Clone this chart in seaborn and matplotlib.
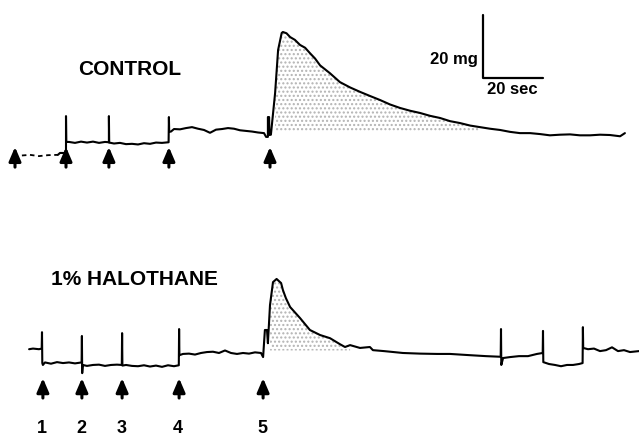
import numpy as np
import pandas as pd
import matplotlib
matplotlib.use("Agg")
import matplotlib.pyplot as plt
import seaborn as sns

# Contraction traces: time in seconds, tension in mg
# (zero = resting level after the first stimulus of each trace)
pre_t = [7.3, 10, 13, 16, 19.3]
pre_mg = [-4.6, -4.4, -4.8, -4.5, -4.4]

control_t = [19.3, 20.0, 22.0, 22.0, 22.1, 23, 25, 27, 29, 31, 33, 35, 36.3, 36.3, 36.4,
             38, 40, 42, 44, 46, 48, 50, 52, 54, 56.2, 56.3, 56.4, 57, 58, 60, 62, 64, 66,
             68, 70, 72, 74, 76, 78, 80, 82, 84, 86, 87, 88, 88.7, 89.3, 89.3, 89.7, 89.8,
             90.3, 91.7, 92.7, 93.9, 94.3, 95.5, 96.7, 98.3, 100, 101.7, 103.3, 105, 106.7,
             110, 113.3, 116.7, 120, 123.3, 126.7, 130, 133.3, 136.7, 140, 143.3, 146.7,
             150, 153.3, 156.7, 160, 163.3, 166.7, 170, 173.3, 176.7, 180, 183.3, 186.7,
             190, 193.3, 196.7, 200, 203.3, 206.7, 208.3]
control_mg = [-4.4, -3.8, -3.8, 7.9, -0.3, -0.3, -0.6, -0.2, -0.5, -0.2, -0.6, -0.3, -0.4, 7.9, -0.5,
              -0.8, -0.6, -1.0, -0.9, -1.1, -0.7, -0.9, -0.5, -0.6, -0.4, 7.6, 2.9, 3.0, 3.8, 3.7, 4.1, 4.4, 3.9,
              3.5, 2.6, 3.6, 3.8, 4.1, 3.9, 3.4, 3.2, 3.0, 2.7, 2.6, 2.5, 1.3, 1.3, 7.6, 7.6, 1.9,
              2.0, 15.2, 28.9, 34.3, 34.6, 34.2, 33.0, 32.1, 30.5, 29.6, 27.9, 26.2, 24.0,
              21.5, 18.7, 17.0, 15.6, 14.3, 13.0, 11.6, 10.5, 9.6, 8.9, 8.0, 7.3,
              6.3, 5.7, 4.9, 4.4, 3.9, 3.5, 2.9, 2.5, 2.5, 2.2, 1.8, 2.0,
              2.1, 1.8, 1.8, 2.0, 1.9, 1.5, 2.5]

halo_t = [9.7, 11, 13, 13.9, 14.0, 14.1, 14.3, 15, 17, 19, 21, 23, 25, 27.2, 27.3, 27.4, 27.6,
          29, 31, 33, 35, 37, 39, 40.6, 40.7, 40.8, 42, 44, 46, 48, 50, 52, 54, 56, 58, 59.6,
          59.7, 59.8, 61, 63, 65, 67, 69, 71, 73, 75, 77, 79, 81, 83, 85, 87, 87.7, 88.3, 89.0,
          89.3, 90.0, 91.0, 92.2, 93.7, 94.3, 95.3, 96.7, 100, 103.3, 106.7, 110, 113.3, 115,
          116.7, 120, 123.3, 124.3, 128, 134.3, 140, 145.7, 150, 156.7, 162, 166.9, 167.0,
          167.1, 167.7, 170, 173, 176, 179, 180.9, 181.0, 181.1, 183, 185, 187, 189, 191, 193,
          194.2, 194.3, 194.4, 196, 198, 200, 202, 204, 206, 208, 210, 213]
halo_mg = [4.4, 4.6, 4.4, 4.6, 9.8, 0.0, -0.6, 0.2, -0.2, 0.3, 0.0, 0.2, -0.1, 0.2, 8.6, -3.2, -0.6,
           -0.9, -0.6, -0.5, -0.9, -0.6, -0.5, -0.6, 9.5, -0.8, -0.6, -0.9, -1.0, -0.7, -1.1, -0.8, -1.2, -0.7, -1.0, -0.7,
           10.8, 2.5, 2.9, 3.0, 2.7, 3.2, 3.5, 3.6, 3.2, 4.0, 3.2, 2.9, 3.2, 3.0, 3.4, 3.2, 1.9, 10.5, 10.5,
           6.3, 18.4, 25.7, 26.7, 25.4, 23.2, 20.6, 17.8, 14.3, 10.5, 8.9, 7.9, 6.0, 5.1,
           5.7, 4.8, 5.1, 4.1, 3.8, 3.2, 3.0, 2.9, 2.9, 2.5, 2.2, 2.0, 10.8,
           -0.6, 1.6, 1.9, 2.2, 2.2, 2.9, 3.2, 10.2, 0.3, -0.3, -0.6, -1.0, -0.6, -0.6, -0.3,
           0.0, 11.4, 4.8, 4.4, 4.6, 3.8, 4.1, 5.0, 3.8, 4.1, 3.5, 3.8]

# stimulus marks (s)
stim_control = [5.0, 22.0, 36.3, 56.3, 90.0]
stim_halo = [14.3, 27.3, 40.7, 59.7, 87.7]
stim_labels = ["1", "2", "3", "4", "5"]

# scale bar
scale_sec = 20
scale_mg = 20

# layout
HALO_OFFSET = -70.5
scale_x0, scale_y0 = 160.9, 20.0

sns.set_theme(style="white")
plt.rcParams["font.family"] = ["Liberation Sans", "DejaVu Sans"]
plt.rcParams["text.color"] = "black"

fig = plt.figure(figsize=(6.39, 4.37), dpi=100)
ax = fig.add_axes([0, 0, 1, 1])

ctrl = pd.DataFrame({"t": control_t, "mg": control_mg})
halo = pd.DataFrame({"t": halo_t, "mg": np.array(halo_mg) + HALO_OFFSET})

# stippled area under the twitch
m = (ctrl.t >= 91.5) & (ctrl.t <= 160)
ax.fill_between(ctrl.t[m], ctrl.mg[m], 2.9, facecolor="none", edgecolor="0.7",
                hatch="....", linewidth=0)
m = (halo.t >= 89.8) & (halo.t <= 118)
ax.fill_between(halo.t[m], halo.mg[m], 4.0 + HALO_OFFSET, facecolor="none", edgecolor="0.7",
                hatch="....", linewidth=0)

ax.plot(pre_t, pre_mg, color="black", lw=1.3, ls=(0, (2.5, 2)))
sns.lineplot(data=ctrl, x="t", y="mg", sort=False, estimator=None, color="black",
             linewidth=1.5, ax=ax)
sns.lineplot(data=halo, x="t", y="mg", sort=False, estimator=None, color="black",
             linewidth=1.5, ax=ax)
ax.set_xlim(0, 213)
ax.set_ylim(-93.97, 44.76)
ax.axis("off")

arrow = dict(arrowstyle="-|>,head_length=0.7,head_width=0.3", color="black", lw=2.2,
             shrinkA=0, shrinkB=0)
for t in stim_control:
    ax.annotate("", xy=(t, -1.9), xytext=(t, -8.3), arrowprops=arrow)
for t, lab in zip(stim_halo, stim_labels):
    ax.annotate("", xy=(t, -4.8 + HALO_OFFSET), xytext=(t, -11.1 + HALO_OFFSET), arrowprops=arrow)
    ax.text(t - 0.3, -22.3 + HALO_OFFSET, lab, ha="center", va="baseline",
            fontsize=13, fontweight="bold", color="black")

ax.text(43.3, 21.0, "CONTROL", ha="center", va="baseline", fontsize=15,
        fontweight="bold", color="black")
ax.text(44.8, -45.7, "1% HALOTHANE", ha="center", va="baseline", fontsize=15,
        fontweight="bold", color="black")

ax.plot([scale_x0, scale_x0, scale_x0 + scale_sec],
        [scale_y0 + scale_mg, scale_y0, scale_y0], color="black", lw=1.6)
ax.text(scale_x0 - 1.6, 24.4, f"{scale_mg} mg", ha="right", va="baseline",
        fontsize=12, fontweight="bold", color="black")
ax.text(scale_x0 + 1.4, 14.9, f"{scale_sec} sec", ha="left", va="baseline",
        fontsize=12, fontweight="bold", color="black")

fig.savefig("out.png", dpi=100)
